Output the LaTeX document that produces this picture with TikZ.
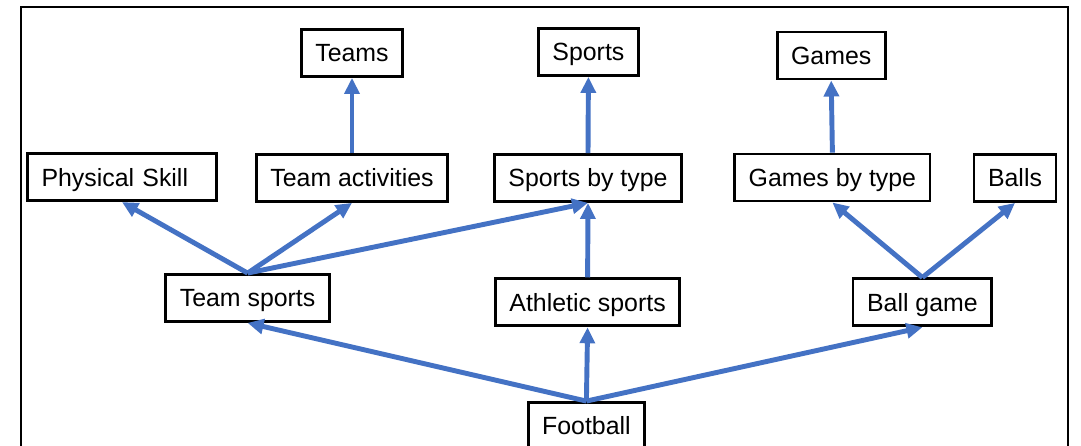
\documentclass[tikz,border=0pt]{standalone}
\usepackage{fontspec}
\setmainfont{Liberation Sans}
\usetikzlibrary{arrows.meta}
\definecolor{linkblue}{RGB}{68,114,196}
\tikzset{
    box/.style={draw, line width=2pt, minimum height=1.175cm, inner xsep=0.35cm,
        text height=0.445cm, text depth=0cm, font=\fontsize{17.7}{20}\selectfont},
    link/.style={draw=linkblue, line width=3.5pt, -{Triangle[length=0.4cm, width=0.37cm]}}
}

\begin{document}
\begin{tikzpicture}
\clip (0,0) rectangle (27.025,11.15);
\draw[line width=1.4pt] (0.525,-1) rectangle (26.7,10.975);

\node[box] (teams) at (8.8,9.825) {Teams};
\node[box] (sports) at (14.71,9.85) {Sports};
\node[box] (games) at (20.78,9.76) {Games};

\node[box, text width=4.025cm, align=left] (physical) at (3.05,6.72) {Physical Skill};
\node[box] (teamact) at (8.8,6.7) {Team activities};
\node[box] (sportstype) at (14.7,6.7) {Sports by type};
\node[box] (gamestype) at (20.81,6.71) {Games by type};
\node[box] (balls) at (25.375,6.7) {Balls};

\node[box] (teamsports) at (6.19,3.7) {Team sports};
\node[box] (athletic) at (14.69,3.59) {Athletic sports};
\node[box] (ballgame) at (23.06,3.59) {Ball game};

\node[box] (football) at (14.66,0.5) {Football};

\draw[link] (football.north) -- (teamsports.south);
\draw[link] (football.north) -- (athletic.south);
\draw[link] (football.north) -- (ballgame.south);

\draw[link] (teamsports.north) -- (physical.south);
\draw[link] (teamsports.north) -- (teamact.south);
\draw[link] (teamsports.north) -- (sportstype.south);
\draw[link] (athletic.north) -- (sportstype.south);
\draw[link] (ballgame.north) -- (gamestype.south);
\draw[link] (ballgame.north) -- (balls.south);

\draw[link] (teamact.north) -- (teams.south);
\draw[link] (sportstype.north) -- (sports.south);
\draw[link] (gamestype.north) -- (games.south);
\end{tikzpicture}
\end{document}
